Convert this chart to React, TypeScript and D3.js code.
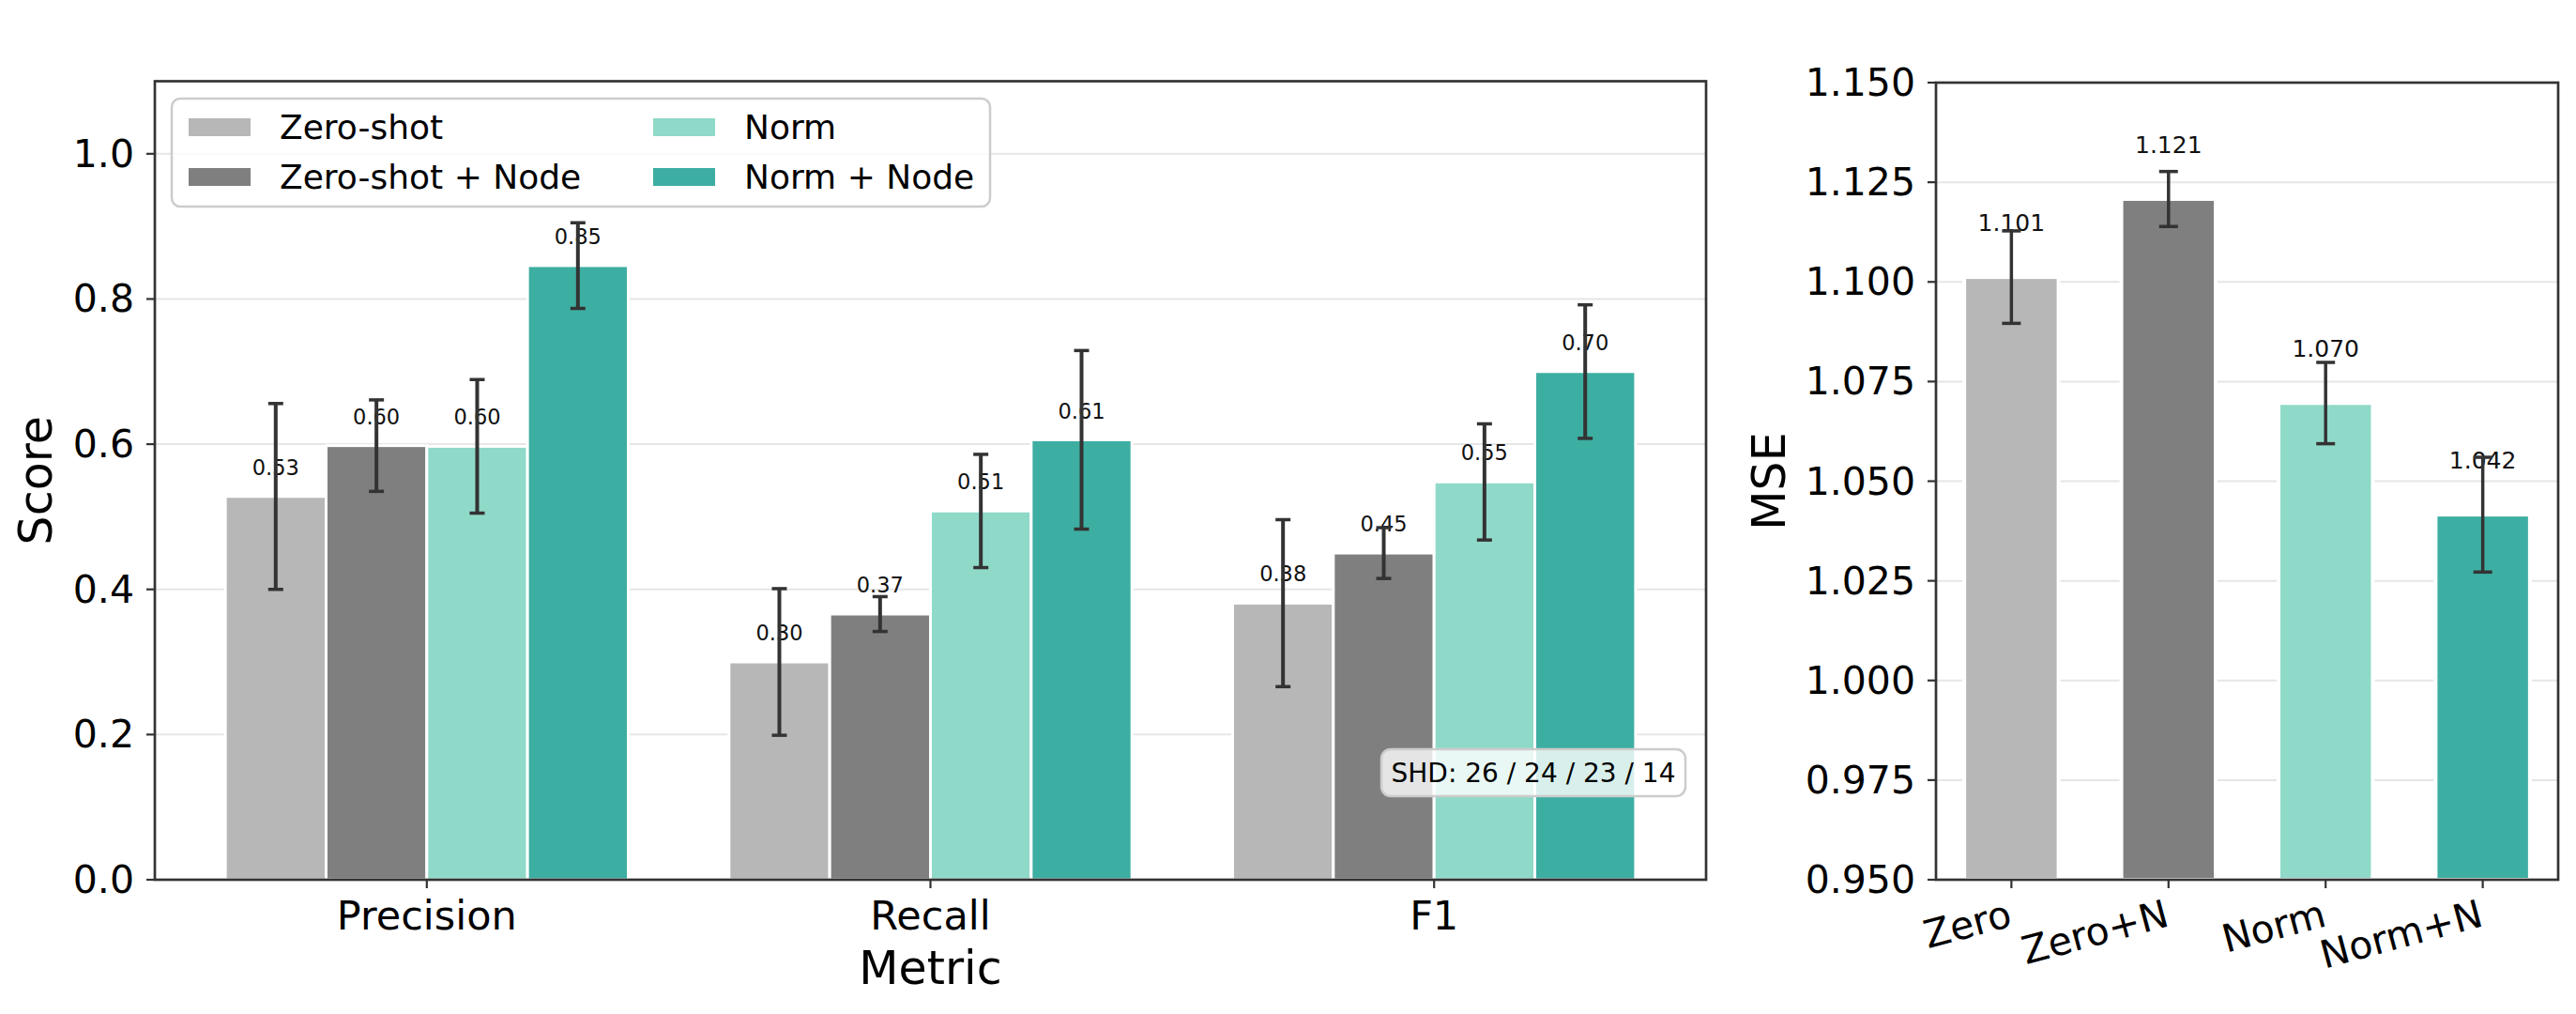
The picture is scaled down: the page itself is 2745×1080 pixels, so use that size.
import { useEffect } from "react";
import * as d3 from "d3";

// ---- data ----
const metrics = ["Precision", "Recall", "F1"];
const methods = ["Zero-shot", "Zero-shot + Node", "Norm", "Norm + Node"];
const methodColors = ["#b7b7b7", "#7f7f7f", "#8fd9c8", "#3daea2"];

const zeroShotMean = [0.528, 0.3, 0.381];
const zeroShotErr = [0.128, 0.101, 0.115];
const zeroNodeMean = [0.598, 0.366, 0.45];
const zeroNodeErr = [0.063, 0.024, 0.035];
const normMean = [0.597, 0.508, 0.548];
const normErr = [0.092, 0.078, 0.08];
const normNodeMean = [0.846, 0.606, 0.7];
const normNodeErr = [0.059, 0.123, 0.092];

const scoreTicks = [0, 0.2, 0.4, 0.6, 0.8, 1.0];
const shdValues = [26, 24, 23, 14];

const mseLabels = ["Zero", "Zero+N", "Norm", "Norm+N"];
const mseMean = [1.1012, 1.1208, 1.0696, 1.0416];
const mseErr = [0.0116, 0.0069, 0.0102, 0.0144];
const mseTicks = [0.95, 0.975, 1.0, 1.025, 1.05, 1.075, 1.1, 1.125, 1.15];

const W = 2745;
const H = 1080;
const FONT = "DejaVu Sans, sans-serif";
const INK = "#333333";

const left = { x0: 165, x1: 1818, y0: 86.5, y1: 937 };
const right = { x0: 2063, x1: 2726, y0: 88, y1: 937 };

export default function App() {
  useEffect(() => {
    document.body.style.margin = "0";
  }, []);

  const means = [zeroShotMean, zeroNodeMean, normMean, normNodeMean];
  const errs = [zeroShotErr, zeroNodeErr, normErr, normNodeErr];

  const barW = 0.2;
  const x = d3.scaleLinear().domain([-0.54, 2.54]).range([left.x0, left.x1]);
  const y = d3.scaleLinear().domain([0, 1.1]).range([left.y1, left.y0]);

  const bars = methods.flatMap((m, j) =>
    metrics.map((metric, i) => ({
      key: `${m}-${metric}`,
      cx: i + (j - 1.5) * barW,
      v: means[j][i],
      e: errs[j][i],
      color: methodColors[j],
    }))
  );

  const xr = d3.scaleLinear().domain([-0.48, 3.48]).range([right.x0, right.x1]);
  const yr = d3.scaleLinear().domain([0.95, 1.15]).range([right.y1, right.y0]);
  const mseW = 0.6;

  const cap = 8;

  return (
    <svg width={W} height={H} style={{ display: "block", background: "#fff" }} fontFamily={FONT}>
      {/* ---------- left panel ---------- */}
      <g>
        {scoreTicks.map((t) => (
          <line key={t} x1={left.x0} x2={left.x1} y1={y(t)} y2={y(t)} stroke="#e6e6e6" strokeWidth={2} />
        ))}
        {bars.map((b) => (
          <rect
            key={b.key}
            x={x(b.cx - barW / 2)}
            width={x(b.cx + barW / 2) - x(b.cx - barW / 2)}
            y={y(b.v)}
            height={y(0) - y(b.v)}
            fill={b.color}
            stroke="#fff"
            strokeWidth={3}
          />
        ))}
        {bars.map((b) => (
          <text
            key={b.key + "-lbl"}
            x={x(b.cx)}
            y={y(b.v + 0.04)}
            textAnchor="middle"
            dominantBaseline="central"
            fontSize={22.5}
            fill="#111"
          >
            {b.v.toFixed(2)}
          </text>
        ))}
        {bars.map((b) => (
          <g key={b.key + "-err"} stroke={INK}>
            <line x1={x(b.cx)} x2={x(b.cx)} y1={y(b.v + b.e)} y2={y(b.v - b.e)} strokeWidth={4} />
            <line x1={x(b.cx) - cap} x2={x(b.cx) + cap} y1={y(b.v + b.e)} y2={y(b.v + b.e)} strokeWidth={3.5} />
            <line x1={x(b.cx) - cap} x2={x(b.cx) + cap} y1={y(b.v - b.e)} y2={y(b.v - b.e)} strokeWidth={3.5} />
          </g>
        ))}
        <rect
          x={left.x0}
          y={left.y0}
          width={left.x1 - left.x0}
          height={left.y1 - left.y0}
          fill="none"
          stroke={INK}
          strokeWidth={2.7}
        />
        {scoreTicks.map((t) => (
          <g key={"yt" + t}>
            <line x1={left.x0 - 9} x2={left.x0} y1={y(t)} y2={y(t)} stroke={INK} strokeWidth={2.2} />
            <text x={left.x0 - 22} y={y(t)} textAnchor="end" dominantBaseline="central" fontSize={41} fill="#000">
              {t.toFixed(1)}
            </text>
          </g>
        ))}
        {metrics.map((m, i) => (
          <g key={"xt" + m}>
            <line x1={x(i)} x2={x(i)} y1={left.y1} y2={left.y1 + 9} stroke={INK} strokeWidth={2.2} />
            <text x={x(i)} y={990} textAnchor="middle" fontSize={43} fill="#000">
              {m}
            </text>
          </g>
        ))}
        <text x={x(1)} y={1048} textAnchor="middle" fontSize={49} fill="#000">
          Metric
        </text>
        <text
          transform={`translate(38, ${(left.y0 + left.y1) / 2}) rotate(-90)`}
          textAnchor="middle"
          dominantBaseline="central"
          fontSize={49}
          fill="#000"
        >
          Score
        </text>

        {/* legend */}
        <rect x={183} y={105} width={872} height={115} rx={9} fill="#fff" fillOpacity={0.8} stroke="#cccccc" strokeWidth={2.5} />
        {methods.map((m, j) => {
          const col = Math.floor(j / 2);
          const row = j % 2;
          const hx = col === 0 ? 200 : 695;
          const cy = 135.5 + row * 53;
          return (
            <g key={"lg" + m}>
              <rect x={hx} y={cy - 10.5} width={68} height={21} fill={methodColors[j]} stroke="#fff" strokeWidth={2} />
              <text x={hx + 98} y={cy} dominantBaseline="central" fontSize={36} fill="#000">
                {m}
              </text>
            </g>
          );
        })}

        {/* SHD annotation */}
        <rect x={1472} y={798} width={324} height={50} rx={10} fill="#fff" fillOpacity={0.8} stroke="#cccccc" strokeWidth={2.5} />
        <text x={1634} y={823} textAnchor="middle" dominantBaseline="central" fontSize={28} fill="#000">
          {"SHD: " + shdValues.join(" / ")}
        </text>
      </g>

      {/* ---------- right panel ---------- */}
      <g>
        {mseTicks.map((t) => (
          <line key={t} x1={right.x0} x2={right.x1} y1={yr(t)} y2={yr(t)} stroke="#e6e6e6" strokeWidth={2} />
        ))}
        {mseMean.map((v, i) => (
          <rect
            key={"mb" + i}
            x={xr(i - mseW / 2)}
            width={xr(i + mseW / 2) - xr(i - mseW / 2)}
            y={yr(v)}
            height={yr(0.95) - yr(v)}
            fill={methodColors[i]}
            stroke="#fff"
            strokeWidth={4}
          />
        ))}
        {mseMean.map((v, i) => (
          <text
            key={"ml" + i}
            x={xr(i)}
            y={yr(v + 0.0135)}
            textAnchor="middle"
            dominantBaseline="central"
            fontSize={25}
            fill="#111"
          >
            {v.toFixed(3)}
          </text>
        ))}
        {mseMean.map((v, i) => (
          <g key={"me" + i} stroke={INK}>
            <line x1={xr(i)} x2={xr(i)} y1={yr(v + mseErr[i])} y2={yr(v - mseErr[i])} strokeWidth={3.5} />
            <line x1={xr(i) - 10} x2={xr(i) + 10} y1={yr(v + mseErr[i])} y2={yr(v + mseErr[i])} strokeWidth={3.5} />
            <line x1={xr(i) - 10} x2={xr(i) + 10} y1={yr(v - mseErr[i])} y2={yr(v - mseErr[i])} strokeWidth={3.5} />
          </g>
        ))}
        <rect
          x={right.x0}
          y={right.y0}
          width={right.x1 - right.x0}
          height={right.y1 - right.y0}
          fill="none"
          stroke={INK}
          strokeWidth={2.7}
        />
        {mseTicks.map((t) => (
          <g key={"ryt" + t}>
            <line x1={right.x0 - 9} x2={right.x0} y1={yr(t)} y2={yr(t)} stroke={INK} strokeWidth={2.2} />
            <text x={right.x0 - 22} y={yr(t)} textAnchor="end" dominantBaseline="central" fontSize={41} fill="#000">
              {t.toFixed(3)}
            </text>
          </g>
        ))}
        {mseLabels.map((m, i) => (
          <g key={"rxt" + m}>
            <line x1={xr(i)} x2={xr(i)} y1={right.y1} y2={right.y1 + 9} stroke={INK} strokeWidth={2.2} />
            <text
              transform={`translate(${xr(i) - 6}, ${right.y1 + 18}) rotate(-15)`}
              textAnchor="end"
              dy="0.78em"
              fontSize={41}
              fill="#000"
            >
              {m}
            </text>
          </g>
        ))}
        <text
          transform={`translate(1885, ${(right.y0 + right.y1) / 2}) rotate(-90)`}
          textAnchor="middle"
          dominantBaseline="central"
          fontSize={49}
          fill="#000"
        >
          MSE
        </text>
      </g>
    </svg>
  );
}
